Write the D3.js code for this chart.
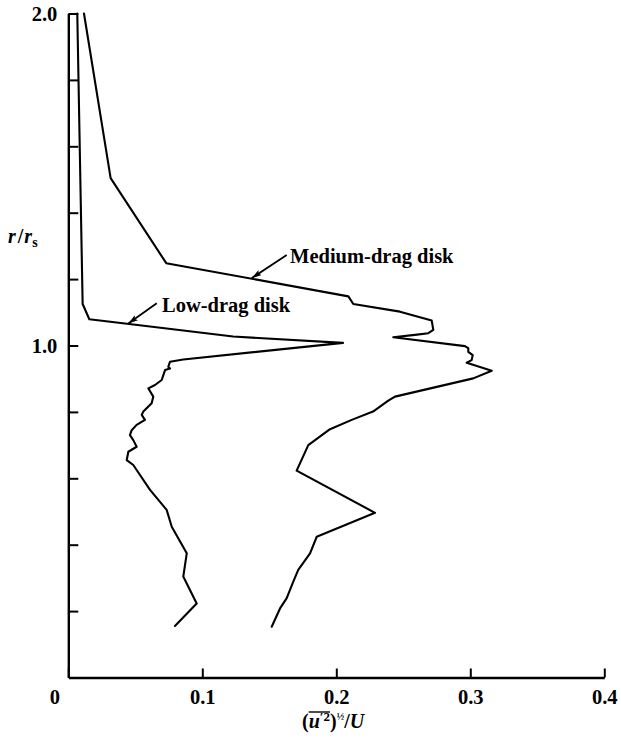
<!DOCTYPE html>
<html>
<head>
<meta charset="utf-8">
<script src="https://cdn.jsdelivr.net/npm/d3@7"></script>
<style>
  html, body { margin: 0; padding: 0; background: #fff; }
  svg { display: block; }
  text { font-family: "Liberation Serif", "DejaVu Serif", serif; fill: #000; }
</style>
</head>
<body>
<svg id="chart" width="621" height="743"></svg>
<script>
// Radial profiles of streamwise turbulence intensity behind two disks.
// r/rs on the vertical axis, (u'^2)^1/2 / U on the horizontal axis.

const lowDragR = [2.000, 1.125, 1.079, 1.057, 1.027, 1.008, 0.958, 0.951, 0.936, 0.931,
  0.926, 0.896, 0.881, 0.871, 0.846, 0.826, 0.801, 0.791, 0.776, 0.761, 0.745, 0.730,
  0.715, 0.695, 0.680, 0.655, 0.640, 0.625, 0.565, 0.505, 0.454, 0.374, 0.304, 0.223, 0.155];
const lowDragU = [0.0067, 0.0107, 0.0157, 0.061, 0.123, 0.205, 0.0858, 0.0759, 0.0746, 0.0759,
  0.0722, 0.0697, 0.0647, 0.0597, 0.0634, 0.0622, 0.056, 0.0548, 0.0572, 0.051, 0.0473, 0.046,
  0.0485, 0.051, 0.0448, 0.0436, 0.0485, 0.051, 0.061, 0.0734, 0.0772, 0.0884, 0.0858, 0.0958, 0.0796];

const mediumDragR = [2.000, 1.504, 1.248, 1.148, 1.125, 1.102, 1.075, 1.047, 1.037, 1.032,
  1.025, 0.998, 0.992, 0.981, 0.971, 0.956, 0.948, 0.924, 0.901, 0.846, 0.834, 0.801,
  0.776, 0.748, 0.700, 0.623, 0.496, 0.424, 0.374, 0.324, 0.289, 0.239, 0.208, 0.153];
const mediumDragU = [0.0117, 0.0316, 0.0731, 0.209, 0.2127, 0.2475, 0.2712, 0.2724, 0.2687, 0.2587,
  0.2425, 0.296, 0.2985, 0.2985, 0.3018, 0.301, 0.2973, 0.316, 0.3022, 0.2438, 0.2388, 0.2274,
  0.2115, 0.1953, 0.1791, 0.1704, 0.2289, 0.1854, 0.1804, 0.1716, 0.1679, 0.163, 0.158, 0.1518];

const xTickValues = [0, 0.1, 0.2, 0.3, 0.4];
const xTickLabels = ["0", "0.1", "0.2", "0.3", "0.4"];
const yTickValues = [0.2, 0.4, 0.6, 0.8, 1.0, 1.2, 1.4, 1.6, 1.8, 2.0];
const yTickLabels = ["", "", "", "", "1.0", "", "", "", "", "2.0"];

const curveLabels = ["Medium-drag disk", "Low-drag disk"];

const svg = d3.select("#chart");
svg.append("rect").attr("width", 621).attr("height", 743).attr("fill", "#fff");

const x = d3.scaleLinear().domain([0, 0.4]).range([68.3, 604.3]);
const y = d3.scaleLinear().domain([0, 2]).range([677.5, 13.5]);

// axes with inward ticks
const xAxis = d3.axisBottom(x)
  .tickValues(xTickValues)
  .tickFormat((d, i) => xTickLabels[i])
  .tickSizeInner(-9).tickSizeOuter(0).tickPadding(12);
const yAxis = d3.axisLeft(y)
  .tickValues(yTickValues)
  .tickFormat((d, i) => yTickLabels[i])
  .tickSizeInner(-10).tickSizeOuter(0).tickPadding(11);

const gx = svg.append("g").attr("transform", `translate(0,${y(0)})`).call(xAxis);
const gy = svg.append("g").attr("transform", `translate(${x(0)},0)`).call(yAxis);

[gx, gy].forEach(g => {
  g.select(".domain").attr("stroke", "#000").attr("stroke-width", 2.4);
  g.selectAll(".tick line").attr("stroke", "#000").attr("stroke-width", 2);
  g.selectAll(".tick text")
    .attr("font-family", "'Liberation Serif', serif")
    .attr("font-size", 20.5).attr("font-weight", "bold").attr("fill", "#000");
});
// the origin label sits left of the corner
gx.selectAll(".tick text").filter(d => d === 0).attr("dx", -14);
gy.selectAll(".tick text").attr("dy", "0.35em");

// profiles
const line = d3.line().x(d => x(d[0])).y(d => y(d[1]));
const lowPts = lowDragU.map((u, i) => [u, lowDragR[i]]);
const medPts = mediumDragU.map((u, i) => [u, mediumDragR[i]]);

[medPts, lowPts].forEach(pts => {
  svg.append("path").datum(pts)
    .attr("d", line)
    .attr("fill", "none")
    .attr("stroke", "#000")
    .attr("stroke-width", 2.1)
    .attr("stroke-linejoin", "round")
    .attr("stroke-linecap", "round");
});

// curve annotations (data units)
const annotations = [
  { text: curveLabels[0], at: [0.1655, 1.2485], tail: [0.163, 1.2726], tip: [0.1369, 1.203] },
  { text: curveLabels[1], at: [0.0699, 1.1009], tail: [0.066, 1.127], tip: [0.0448, 1.066] }
];

const defs = svg.append("defs");
defs.append("marker")
  .attr("id", "head")
  .attr("viewBox", "0 0 10 6")
  .attr("refX", 10).attr("refY", 3)
  .attr("markerWidth", 10).attr("markerHeight", 6)
  .attr("markerUnits", "userSpaceOnUse")
  .attr("orient", "auto")
  .append("path").attr("d", "M0,0 L10,3 L0,6 L2,3 Z").attr("fill", "#000");

annotations.forEach(a => {
  svg.append("line")
    .attr("x1", x(a.tail[0])).attr("y1", y(a.tail[1]))
    .attr("x2", x(a.tip[0])).attr("y2", y(a.tip[1]))
    .attr("stroke", "#000").attr("stroke-width", 1.8)
    .attr("marker-end", "url(#head)");
  svg.append("text")
    .attr("x", x(a.at[0])).attr("y", y(a.at[1]))
    .attr("font-size", 20.5).attr("font-weight", "bold")
    .text(a.text);
});

// vertical axis title r/r_s
const yt = svg.append("text").attr("x", 8).attr("y", 243)
  .attr("font-size", 20).attr("font-weight", "bold");
yt.append("tspan").attr("font-style", "italic").text("r");
yt.append("tspan").attr("dx", 2).text("/");
yt.append("tspan").attr("dx", 1).attr("font-style", "italic").text("r");
yt.append("tspan").attr("font-size", 14).attr("dy", 4).text("s");

// horizontal axis title (u'^2)^1/2 / U with overbar on u'^2
const xt = svg.append("text").attr("x", 302).attr("y", 728)
  .attr("font-size", 20).attr("font-weight", "bold");
xt.append("tspan").text("(");
xt.append("tspan").attr("font-style", "italic").text("u");
xt.append("tspan").attr("font-size", 13).attr("dy", -7).text("′2");
xt.append("tspan").attr("dy", 7).text(")");
xt.append("tspan").attr("font-size", 10).attr("dy", -8).text("½");
xt.append("tspan").attr("dy", 8).text("/");
xt.append("tspan").attr("font-style", "italic").text("U");

const node = xt.node();
const x0 = node.getStartPositionOfChar(1).x;
const x1 = node.getEndPositionOfChar(3).x;
svg.append("line")
  .attr("x1", x0).attr("x2", x1)
  .attr("y1", 712).attr("y2", 712)
  .attr("stroke", "#000").attr("stroke-width", 1.4);
</script>
</body>
</html>
